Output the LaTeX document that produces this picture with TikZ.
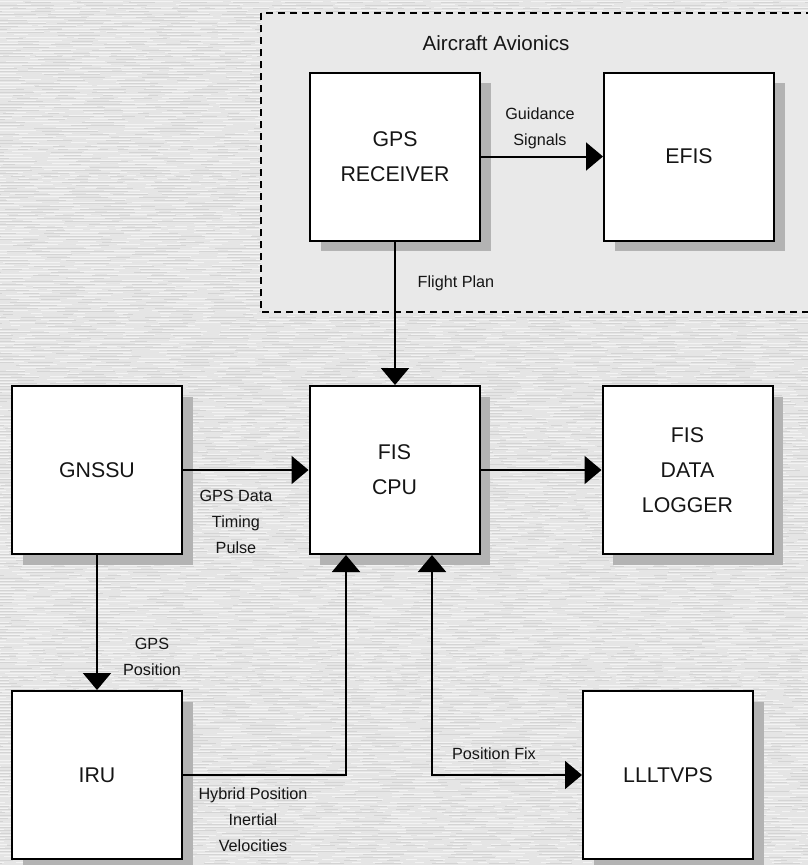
\documentclass[tikz,border=0pt]{standalone}
\usepackage{fontspec}
\setmainfont{Liberation Sans}
\usetikzlibrary{arrows.meta,shadows}
\definecolor{bgc}{HTML}{E5E5E5}
\definecolor{innerc}{HTML}{E9E9E9}
\definecolor{shadec}{HTML}{B3B3B3}
\definecolor{txt}{HTML}{151515}
\begin{document}
\begin{tikzpicture}[x=1pt,y=-1pt,
  box/.style={draw=black, line width=2pt, fill=white, minimum width=170pt,
    minimum height=168pt, inner sep=0pt, align=center, text=txt,
    font=\fontsize{21.3}{35}\selectfont,
    drop shadow={shadow xshift=10.5pt, shadow yshift=-10.5pt, fill=shadec, opacity=1}},
  arr/.style={line width=2pt, -{Triangle[width=28pt,length=17pt]}},
  darr/.style={line width=2pt, {Triangle[width=28pt,length=17pt]}-{Triangle[width=28pt,length=17pt]}},
  lab/.style={font=\fontsize{16.2}{26}\selectfont, align=center, inner sep=0pt, anchor=base, text=txt},
  streakw/.style={white, line width=1pt, opacity=0.55},
  streakg/.style={black, line width=0.8pt, opacity=0.07}]
\useasboundingbox (0,0) rectangle (808,865);
\clip (0,0) rectangle (808,865);
% background texture
\fill[bgc] (0,0) rectangle (808,865);
\pgfmathsetseed{11}
\foreach \y in {1,4,...,865}{
  \pgfmathsetmacro{\da}{random(8,60)}
  \pgfmathsetmacro{\db}{random(5,40)}
  \pgfmathsetmacro{\dp}{random(0,90)}
  \draw[streakw, dash pattern=on \da pt off \db pt, dash phase=\dp pt] (0,\y) -- (808,\y);
  \pgfmathsetmacro{\ea}{random(10,70)}
  \pgfmathsetmacro{\eb}{random(10,60)}
  \pgfmathsetmacro{\ep}{random(0,90)}
  \draw[streakg, dash pattern=on \ea pt off \eb pt, dash phase=\ep pt] (0,\y+1.5) -- (808,\y+1.5);
}
% avionics group
\draw[fill=innerc, line width=1.5pt, dash pattern=on 7pt off 5pt] (261,13) rectangle (820,312);
\node[font=\fontsize{20.5}{24}\selectfont, anchor=base, text=txt, inner sep=0pt] (avio) at (496,50) {Aircraft Avionics};
% boxes
\node[box] (gps) at (395,156.5) {GPS\\RECEIVER};
\node[box] (efis) at (689,156.5) {EFIS};
\node[box] (gnssu) at (97,470) {GNSSU};
\node[box] (cpu) at (394.5,470) {FIS\\CPU};
\node[box] (logger) at (687.5,470) {FIS\\DATA\\LOGGER};
\node[box] (iru) at (97,775) {IRU};
\node[box] (lll) at (668,775) {LLLTVPS};
% connectors
\draw[arr] (gps.east) -- (efis.west);
\draw[arr] (gps.south) -- (gps.south |- cpu.north);
\draw[arr] (gnssu.east) -- (cpu.west);
\draw[arr] (cpu.east) -- (logger.west);
\draw[arr] (gnssu.south) -- (iru.north);
\draw[arr] (iru.east) -| ([xshift=-48.5pt]cpu.south);
\draw[darr] ([xshift=37.5pt]cpu.south) |- (lll.west);
% labels (anchor = baseline of last line)
\node[lab] (lguid) at (540,145) {Guidance\\Signals};
\node[lab] (lflight) at (456,287) {Flight Plan};
\node[lab] (lgpsdata) at (236,553) {GPS Data\\Timing\\Pulse};
\node[lab] (lgpspos) at (152,675) {GPS\\Position};
\node[lab] (lhyb) at (253,851) {Hybrid Position\\Inertial\\Velocities};
\node[lab] (lfix) at (494,759) {Position Fix};
\end{tikzpicture}
\end{document}
